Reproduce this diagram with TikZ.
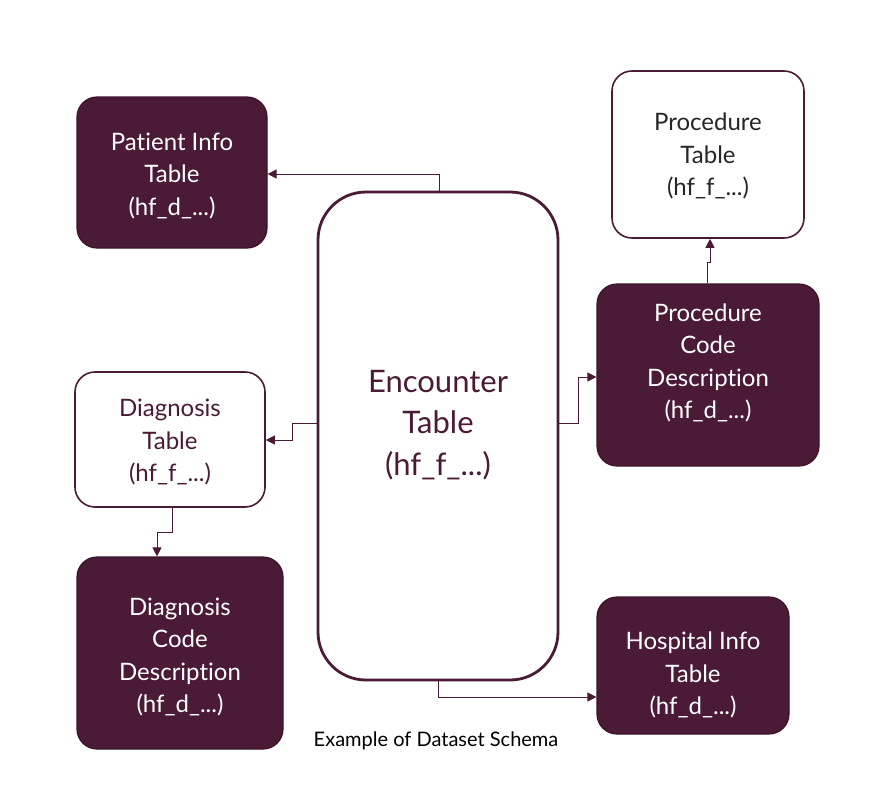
\documentclass[tikz,border=0pt]{standalone}
\usepackage{fontspec}
\setmainfont[Ligatures={NoCommon}]{Lato}
\usetikzlibrary{arrows.meta}
\definecolor{maroon}{RGB}{74,26,54}
\definecolor{maroonedge}{RGB}{60,18,42}
\tikzset{
  darkbox/.style={draw=maroonedge, line width=1.2pt, fill=maroon, rounded corners=20pt, text=white, align=center, inner sep=0pt},
  lightbox/.style={draw=maroon, line width=1.6pt, fill=white, rounded corners=20pt, align=center, inner sep=0pt},
  conn/.style={draw=maroon, line width=1pt, -{Triangle[length=9pt,width=9pt]}},
  boxtext/.style={font=\fontsize{24}{32.5}\selectfont, align=center},
}
\begin{document}
\begin{tikzpicture}[x=1pt,y=-1pt]
\useasboundingbox (0,0) rectangle (874,792);
% boxes
\node[darkbox, minimum width=190pt, minimum height=151pt] (patient) at (172,172.5) {};
\node[boxtext, text=white] at (172,176) {Patient Info\\Table\\(hf\_d\_...)};
\node[lightbox, minimum width=192pt, minimum height=167pt] (proc) at (708,154.5) {};
\node[boxtext, text=black!85] at (708,156) {Procedure\\Table\\(hf\_f\_...)};
\node[lightbox, line width=2.8pt, rounded corners=48pt, minimum width=240pt, minimum height=488pt] (enc) at (438,436) {};
\node[font=\fontsize{31}{41.5}\selectfont, align=center, text=maroon] at (438,425) {Encounter\\Table\\(hf\_f\_...)};
\node[darkbox, minimum width=222pt, minimum height=182pt] (proccode) at (708,375) {};
\node[boxtext, text=white] at (708,363) {Procedure\\Code\\Description\\(hf\_d\_...)};
\node[lightbox, minimum width=190pt, minimum height=135pt] (diag) at (170,439.5) {};
\node[boxtext, text=maroon] at (170,442) {Diagnosis\\Table\\(hf\_f\_...)};
\node[darkbox, minimum width=206pt, minimum height=192pt] (diagcode) at (180,653) {};
\node[boxtext, text=white] at (180,657) {Diagnosis\\Code\\Description\\(hf\_d\_...)};
\node[darkbox, minimum width=192pt, minimum height=137pt] (hosp) at (693,665.5) {};
\node[boxtext, text=white] at (693,675) {Hospital Info\\Table\\(hf\_d\_...)};
\node[font=\fontsize{20}{24}\selectfont, text=black] (cap) at (436,741) {Example of Dataset Schema};
% connectors
\draw[conn] (enc.north -| 439,0) |- (patient.east |- 0,174);
\draw[conn] (enc.west |- 0,423) -- (292,423) |- (diag.east |- 0,440);
\draw[conn] (enc.east |- 0,423) -- (578,423) |- (proccode.west |- 0,377);
\draw[conn] (proccode.north -| 707,0) -- (707,262) -- (710,262) -- (proc.south -| 710,0);
\draw[conn] (diag.south -| 172,0) -- (172,532) -| (diagcode.north -| 157,0);
\draw[conn] (enc.south -| 438,0) |- (hosp.west |- 0,697);
\end{tikzpicture}
\end{document}
